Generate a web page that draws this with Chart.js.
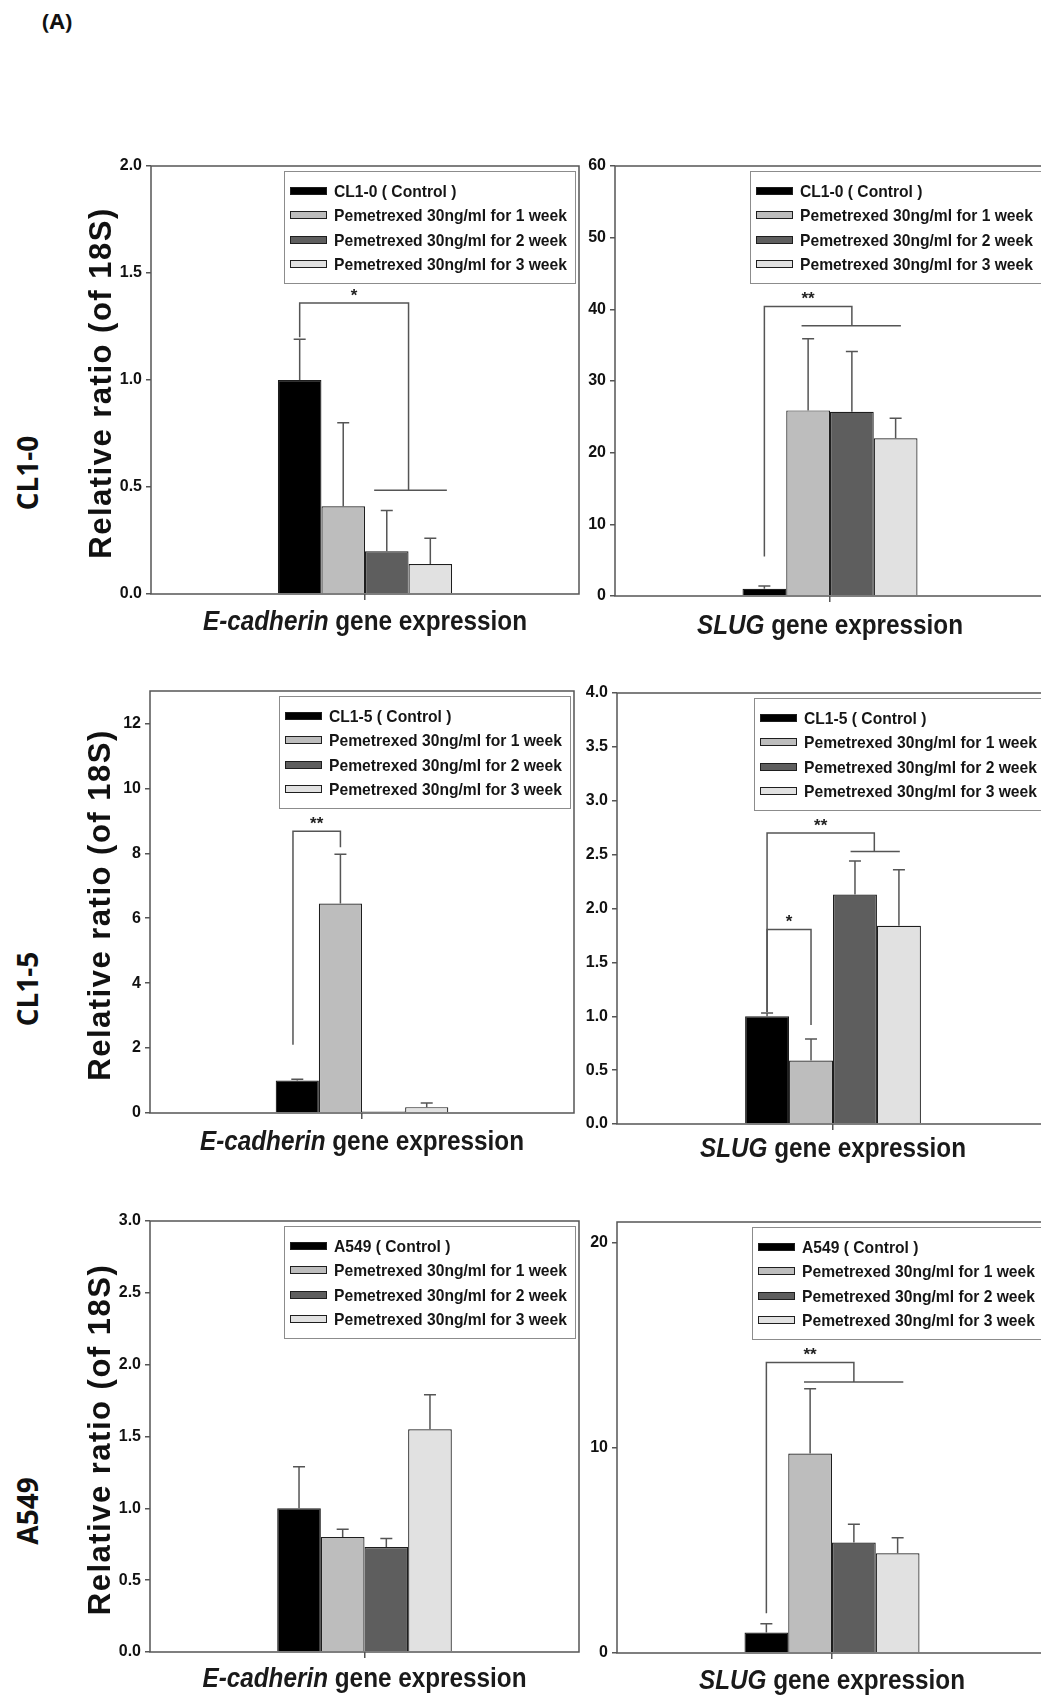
<!DOCTYPE html>
<html>
<head>
<meta charset="utf-8">
<script src="https://cdn.jsdelivr.net/npm/chart.js@4.4.1/dist/chart.umd.min.js"></script>
<style>
  html, body { margin: 0; padding: 0; background: #fff; overflow: hidden; }
  #fig { position: relative; width: 1041px; height: 1702px; overflow: hidden; background: #fff; }
  #fig canvas { position: absolute; }
  .tag { position: absolute; left: 42px; top: 5px; font: bold 22px 'Open Sans', sans-serif; color: #111; }
  .row { position: absolute; left: 27px; font: bold 28px 'Open Sans', sans-serif; color: #111;
         white-space: nowrap; transform: translate(-50%, -50%) rotate(-90deg); }
</style>
</head>
<body>
<div id="fig">
  <div class="tag">(A)</div>
</div>
<script>
// ---- data ----
const cellLines = ["CL1-0", "CL1-5", "A549"];
const treatments = ["Pemetrexed 30ng/ml for 1 week", "Pemetrexed 30ng/ml for 2 week", "Pemetrexed 30ng/ml for 3 week"];

// mean and SD: control, 1 week, 2 week, 3 week
const cl10Ecad = [1.00, 0.41, 0.20, 0.14];
const cl10EcadSd = [0.19, 0.39, 0.19, 0.12];
const cl10Slug = [1.0, 25.9, 25.7, 22.0];
const cl10SlugSd = [0.4, 10.0, 8.4, 2.8];
const cl15Ecad = [1.0, 6.45, 0.05, 0.18];
const cl15EcadSd = [0.04, 1.52, 0, 0.13];
const cl15Slug = [1.0, 0.59, 2.13, 1.84];
const cl15SlugSd = [0.03, 0.20, 0.31, 0.52];
const a549Ecad = [1.0, 0.80, 0.73, 1.55];
const a549EcadSd = [0.29, 0.055, 0.06, 0.24];
const a549Slug = [1.0, 9.72, 5.38, 4.86];
const a549SlugSd = [0.43, 3.15, 0.89, 0.76];

// y tick labels
const ticksEcad10 = [0, 0.5, 1.0, 1.5, 2.0];
const ticksSlug10 = [0, 10, 20, 30, 40, 50, 60];
const ticksEcad15 = [0, 2, 4, 6, 8, 10, 12];
const ticksSlug15 = [0, 0.5, 1.0, 1.5, 2.0, 2.5, 3.0, 3.5, 4.0];
const ticksEcadA = [0, 0.5, 1.0, 1.5, 2.0, 2.5, 3.0];
const ticksSlugA = [0, 10, 20];

// significance brackets, in bar index (0 = control) and data units
const sigEcad10 = [{ mark: "*", from: 0, to: 2.5, top: 1.36, fromEnd: 1.2, toEnd: 0.485, span: [1.71, 3.38] }];
const sigSlug10 = [{ mark: "**", from: 0, to: 2, top: 40.4, fromEnd: 5.5, toEnd: 37.7, span: [0.85, 3.12] }];
const sigEcad15 = [{ mark: "**", from: -0.1, to: 1, top: 8.68, fromEnd: 2.1, toEnd: 8.19 }];
const sigSlug15 = [
  { mark: "**", from: 0, to: 2.44, top: 2.70, fromEnd: 1.04, toEnd: 2.53, span: [1.9, 3.02] },
  { mark: "*", from: 0, to: 1, top: 1.805, fromEnd: 1.04, toEnd: 0.918 }
];
const sigSlugA = [{ mark: "**", from: 0, to: 2, top: 14.15, fromEnd: 1.94, toEnd: 13.2, span: [0.86, 3.13] }];

// ---- styles / layout ----
const sans = "'Liberation Sans', Arial, Helvetica, sans-serif";
const fills = ["#000000", "#bdbdbd", "#5e5e5e", "#e1e1e1"];
const edge = "#1e1e1e";
const axisCol = "#555555";
const rowLabelY = [473, 989, 1511];

const panels = [
  { gene: "E-cadherin", line: 0, values: cl10Ecad, sd: cl10EcadSd, ticks: ticksEcad10, max: 2, dec: 1, sig: sigEcad10, yTitle: true,
    left: 70, top: 150, w: 515, h: 500, padTop: 16, padRight: 6, yW: 81, xH: 56, gap: 29 },
  { gene: "SLUG", line: 0, values: cl10Slug, sd: cl10SlugSd, ticks: ticksSlug10, max: 60, dec: 0, sig: sigSlug10, yTitle: false,
    left: 575, top: 150, w: 474, h: 500, padTop: 16, padRight: 4, yW: 40, xH: 54, gap: 31 },
  { gene: "E-cadherin", line: 1, values: cl15Ecad, sd: cl15EcadSd, ticks: ticksEcad15, max: 13, dec: 0, sig: sigEcad15, yTitle: true,
    left: 70, top: 675, w: 515, h: 500, padTop: 16, padRight: 11, yW: 80, xH: 62, gap: 30 },
  { gene: "SLUG", line: 1, values: cl15Slug, sd: cl15SlugSd, ticks: ticksSlug15, max: 4, dec: 1, sig: sigSlug15, yTitle: false,
    left: 575, top: 677, w: 474, h: 500, padTop: 16, padRight: 0, yW: 42, xH: 53, gap: 26 },
  { gene: "E-cadherin", line: 2, values: a549Ecad, sd: a549EcadSd, ticks: ticksEcadA, max: 3, dec: 1, sig: [], yTitle: true,
    left: 70, top: 1205, w: 515, h: 497, padTop: 16, padRight: 6, yW: 80, xH: 50, gap: 28 },
  { gene: "SLUG", line: 2, values: a549Slug, sd: a549SlugSd, ticks: ticksSlugA, max: 21, dec: 0, sig: sigSlugA, yTitle: false,
    left: 575, top: 1206, w: 474, h: 496, padTop: 16, padRight: 2, yW: 42, xH: 49, gap: 29 }
];

const fig = document.getElementById("fig");

cellLines.forEach((name, i) => {
  const d = document.createElement("div");
  d.className = "row";
  d.style.top = rowLabelY[i] + "px";
  d.textContent = name;
  fig.appendChild(d);
});

// x position of a (possibly fractional) bar index, from the bars the library placed
function barX(chart, idx) {
  const a = chart.getDatasetMeta(0).data[0].x;
  const b = chart.getDatasetMeta(3).data[0].x;
  return a + (b - a) * idx / 3;
}

const deco = {
  id: "deco",
  afterDatasetsDraw(chart, args, opts) {
    const { ctx, chartArea: a, scales: { y } } = chart;
    const p = opts.panel;
    ctx.save();
    // error bars (upper only)
    ctx.strokeStyle = axisCol;
    ctx.lineWidth = 1.5;
    chart.data.datasets.forEach((ds, i) => {
      if (!ds.sd) return;
      const el = chart.getDatasetMeta(i).data[0];
      const yt = y.getPixelForValue(ds.data[0] + ds.sd);
      ctx.beginPath();
      ctx.moveTo(el.x, el.y);
      ctx.lineTo(el.x, yt);
      ctx.moveTo(el.x - 6, yt);
      ctx.lineTo(el.x + 6, yt);
      ctx.stroke();
    });
    // significance brackets
    p.sig.forEach(s => {
      const x1 = barX(chart, s.from), x2 = barX(chart, s.to);
      const yTop = y.getPixelForValue(s.top);
      ctx.beginPath();
      ctx.moveTo(x1, y.getPixelForValue(s.fromEnd));
      ctx.lineTo(x1, yTop);
      ctx.lineTo(x2, yTop);
      ctx.lineTo(x2, y.getPixelForValue(s.toEnd));
      if (s.span) {
        ctx.moveTo(barX(chart, s.span[0]), y.getPixelForValue(s.toEnd));
        ctx.lineTo(barX(chart, s.span[1]), y.getPixelForValue(s.toEnd));
      }
      ctx.stroke();
      ctx.fillStyle = "#222";
      ctx.font = "bold 17px " + sans;
      ctx.textAlign = "center";
      ctx.textBaseline = "middle";
      ctx.fillText(s.mark, (x1 + x2) / 2, yTop - 7);
    });
    // frame
    ctx.strokeStyle = axisCol;
    ctx.lineWidth = 1.5;
    ctx.strokeRect(a.left, a.top, a.right - a.left, a.bottom - a.top);
    ctx.restore();
  },
  afterDraw(chart, args, opts) {
    const { ctx, chartArea: a } = chart;
    const p = opts.panel;
    ctx.save();
    // legend box
    const w = 291, h = 112;
    const x0 = Math.round(a.right - 4 - w), y0 = Math.round(a.top + 5);
    ctx.fillStyle = "#fff";
    ctx.fillRect(x0, y0, w, h);
    ctx.strokeStyle = "#8c8c8c";
    ctx.lineWidth = 1;
    ctx.strokeRect(x0 + 0.5, y0 + 0.5, w, h);
    chart.data.datasets.forEach((ds, i) => {
      const cy = Math.round(y0 + 20 + i * 24.3);
      ctx.fillStyle = ds.backgroundColor;
      ctx.fillRect(x0 + 6, cy - 4, 37, 8);
      ctx.strokeStyle = edge;
      ctx.strokeRect(x0 + 6.5, cy - 3.5, 36, 7);
      ctx.fillStyle = "#151515";
      ctx.font = "bold 17px " + sans;
      ctx.textAlign = "left";
      ctx.textBaseline = "middle";
      ctx.save();
      ctx.translate(x0 + 50, cy + 1);
      ctx.scale(0.92, 1);
      ctx.fillText(ds.label, 0, 0);
      ctx.restore();
    });
    // x title: italic gene name + plain text, slightly condensed
    const cx = chart.scales.x.getPixelForValue(0);
    const ty = a.bottom + p.gap;
    const sx = 0.9;
    const fIt = "italic bold 27px " + sans, fRg = "bold 27px " + sans, rest = " gene expression";
    ctx.font = fIt; const w1 = ctx.measureText(p.gene).width;
    ctx.font = fRg; const w2 = ctx.measureText(rest).width;
    ctx.save();
    ctx.translate(cx - sx * (w1 + w2) / 2, ty);
    ctx.scale(sx, 1);
    ctx.fillStyle = "#1a1a1a";
    ctx.textAlign = "left";
    ctx.textBaseline = "middle";
    ctx.font = fIt; ctx.fillText(p.gene, 0, 0);
    ctx.font = fRg; ctx.fillText(rest, w1, 0);
    ctx.restore();
    // y title
    if (p.yTitle) {
      ctx.save();
      ctx.translate(a.left - 49, (a.top + a.bottom) / 2 + 3);
      ctx.rotate(-Math.PI / 2);
      ctx.font = "bold 31px " + sans;
      ctx.letterSpacing = "1.5px";
      ctx.fillStyle = "#111";
      ctx.textAlign = "center";
      ctx.textBaseline = "middle";
      ctx.fillText("Relative ratio (of 18S)", 0, 0);
      ctx.restore();
    }
    ctx.restore();
  }
};

panels.forEach(p => {
  const cv = document.createElement("canvas");
  cv.width = p.w;
  cv.height = p.h;
  cv.style.left = p.left + "px";
  cv.style.top = p.top + "px";
  fig.appendChild(cv);

  const labels = [cellLines[p.line] + " ( Control )", ...treatments];

  new Chart(cv, {
    type: "bar",
    data: {
      labels: [p.gene],
      datasets: labels.map((lab, i) => ({
        label: lab,
        data: [p.values[i]],
        sd: p.sd[i],
        backgroundColor: fills[i],
        borderColor: edge,
        borderWidth: 1.2,
        categoryPercentage: 0.407,
        barPercentage: 1
      }))
    },
    options: {
      responsive: false,
      animation: false,
      layout: { padding: { top: p.padTop, right: p.padRight, left: 0, bottom: 0 } },
      plugins: {
        legend: { display: false },
        tooltip: { enabled: false },
        deco: { panel: p }
      },
      scales: {
        x: {
          grid: { offset: false, drawOnChartArea: false, tickLength: 6, color: axisCol, lineWidth: 1.5 },
          border: { display: false },
          ticks: { display: false },
          afterFit: s => { s.height = p.xH; }
        },
        y: {
          min: 0,
          max: p.max,
          grid: { drawOnChartArea: false, tickLength: 5, color: axisCol, lineWidth: 1.5 },
          border: { display: false },
          ticks: {
            color: "#111",
            padding: 4,
            font: { family: sans, size: 16, weight: "bold" },
            callback: v => Number(v).toFixed(p.dec)
          },
          afterBuildTicks: s => { s.ticks = p.ticks.map(v => ({ value: v })); },
          afterFit: s => { s.width = p.yW; }
        }
      }
    },
    plugins: [deco]
  });
});
</script>
</body>
</html>
